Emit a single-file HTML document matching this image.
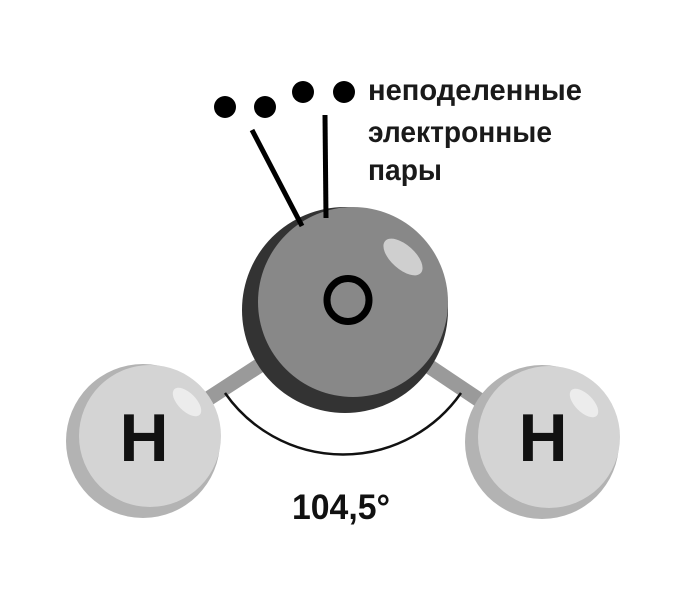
<!DOCTYPE html>
<html><head><meta charset="utf-8"><style>html,body{margin:0;padding:0;background:#fff}svg{display:block}</style></head>
<body>
<svg width="686" height="590" viewBox="0 0 686 590" xmlns="http://www.w3.org/2000/svg">
<rect width="686" height="590" fill="#fff"/>
<line x1="345" y1="310" x2="143" y2="441" stroke="#9a9a9a" stroke-width="15"/>
<line x1="345" y1="310" x2="542" y2="442" stroke="#9a9a9a" stroke-width="15"/>
<path d="M225,393 A144,144 0 0 0 461,393" fill="none" stroke="#111" stroke-width="2.5"/>
<circle cx="143" cy="441" r="77" fill="#b3b3b3"/>
<circle cx="150" cy="436" r="71" fill="#d4d4d4"/>
<ellipse cx="187" cy="402" rx="18" ry="9" transform="rotate(45 187 402)" fill="#ececec"/>
<circle cx="542" cy="442" r="77" fill="#b3b3b3"/>
<circle cx="549" cy="437" r="71" fill="#d4d4d4"/>
<ellipse cx="584" cy="403" rx="18" ry="9" transform="rotate(45 584 403)" fill="#ececec"/>
<circle cx="345" cy="310" r="103" fill="#333"/>
<circle cx="353" cy="302" r="95" fill="#888"/>
<ellipse cx="403" cy="257" rx="24" ry="12" transform="rotate(42 403 257)" fill="#cfcfcf"/>
<ellipse cx="348" cy="300" rx="21" ry="21.5" fill="none" stroke="#000" stroke-width="7"/>
<text x="144" y="461" font-family="Liberation Sans, sans-serif" font-weight="bold" font-size="68" text-anchor="middle" fill="#111">H</text>
<text x="543" y="461" font-family="Liberation Sans, sans-serif" font-weight="bold" font-size="68" text-anchor="middle" fill="#111">H</text>
<circle cx="225" cy="107" r="11" fill="#000"/>
<circle cx="265" cy="107" r="11" fill="#000"/>
<circle cx="303" cy="92" r="11" fill="#000"/>
<circle cx="344" cy="92" r="11" fill="#000"/>
<line x1="252" y1="130" x2="302" y2="226" stroke="#000" stroke-width="5"/>
<line x1="325" y1="115" x2="326" y2="218" stroke="#000" stroke-width="5"/>
<g font-family="Liberation Sans, sans-serif" font-weight="bold" font-size="30" fill="#1a1a1a">
<text x="368" y="100" textLength="214" lengthAdjust="spacingAndGlyphs">неподеленные</text>
<text x="368" y="142" textLength="184" lengthAdjust="spacingAndGlyphs">электронные</text>
<text x="368" y="180" textLength="74" lengthAdjust="spacingAndGlyphs">пары</text>
</g>
<text x="292" y="519" font-family="Liberation Sans, sans-serif" font-weight="bold" font-size="35" fill="#111" textLength="98" lengthAdjust="spacingAndGlyphs">104,5°</text>
</svg>
</body></html>
